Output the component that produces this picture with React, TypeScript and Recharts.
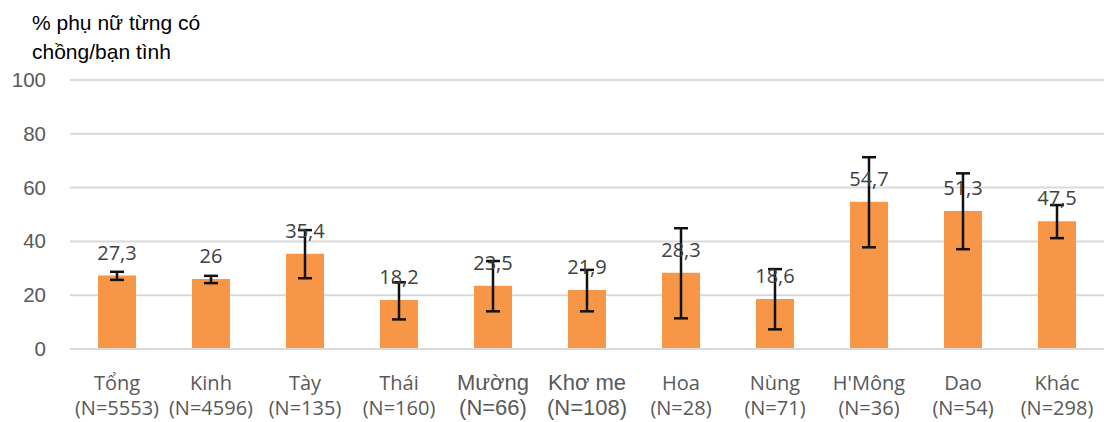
import { Bar, BarChart, CartesianGrid, ErrorBar, LabelList, XAxis, YAxis } from "recharts";

const groups = ["Tổng", "Kinh", "Tày", "Thái", "Mường", "Khơ me", "Hoa", "Nùng", "H'Mông", "Dao", "Khác"];
const sampleSizes = ["(N=5553)", "(N=4596)", "(N=135)", "(N=160)", "(N=66)", "(N=108)", "(N=28)", "(N=71)", "(N=36)", "(N=54)", "(N=298)"];
const percent = [27.3, 26, 35.4, 18.2, 23.5, 21.9, 28.3, 18.6, 54.7, 51.3, 47.5];
// confidence interval bounds
const ciLow = [25.7, 24.5, 26.3, 11.0, 14.0, 14.0, 11.4, 7.3, 37.8, 37.1, 41.2];
const ciHigh = [28.7, 27.2, 44.2, 24.8, 32.7, 29.4, 44.9, 29.7, 71.3, 65.3, 53.5];
const yTicks = [0, 20, 40, 60, 80, 100];

// these two labels are set in a different font in the original
const arialGroups = ["Mường", "Khơ me"];

const data = groups.map((g, i) => ({
  group: g,
  n: sampleSizes[i],
  value: percent[i],
  err: [percent[i] - ciLow[i], ciHigh[i] - percent[i]],
}));

const ORANGE = "#F79646";
const GRID = "#d9d9d9";

function CategoryTick(props: any) {
  const { x, y, payload } = props;
  const row = data.find((d) => d.group === payload.value);
  const arial = arialGroups.includes(payload.value);
  const font = arial ? "'Liberation Sans', Arial, sans-serif" : "'Open Sans', sans-serif";
  const size = arial ? 22 : 20;
  return (
    <g>
      <text x={x} y={y + 33} textAnchor="middle" fill="#595959" fontFamily={font} fontSize={size}>
        {payload.value}
      </text>
      <text x={x} y={y + 58} textAnchor="middle" fill="#595959" fontFamily={font} fontSize={size}>
        {row ? row.n : ""}
      </text>
    </g>
  );
}

function ValueTick(props: any) {
  const { y, payload } = props;
  return (
    <text x={46} y={y + 7} textAnchor="end" fill="#595959" fontFamily="'Liberation Sans', Arial, sans-serif" fontSize={20.5}>
      {payload.value}
    </text>
  );
}

function ValueLabel(props: any) {
  const { x, y, width, value } = props;
  return (
    <text
      x={x + width / 2}
      y={y - 16}
      textAnchor="middle"
      fill="#404040"
      fontFamily="'Open Sans', sans-serif"
      fontSize={20}
    >
      {String(value).replace(".", ",")}
    </text>
  );
}

export default function App() {
  return (
    <div style={{ position: "absolute", left: 0, top: 0, width: 1104, height: 422, background: "#fff" }}>
      <div
        style={{
          position: "absolute",
          left: 32,
          top: 8,
          fontFamily: "'Liberation Sans', Arial, sans-serif",
          fontSize: 21,
          lineHeight: "29px",
          color: "#000",
        }}
      >
        % phụ nữ từng có
        <br />
        chồng/bạn tình
      </div>
      <BarChart width={1104} height={422} data={data} margin={{ top: 80, right: 0, bottom: 0, left: 0 }}>
        <CartesianGrid vertical={false} stroke={GRID} strokeWidth={2} />
        <XAxis
          dataKey="group"
          height={73}
          axisLine={{ stroke: GRID, strokeWidth: 2 }}
          tickLine={false}
          interval={0}
          tick={<CategoryTick />}
        />
        <YAxis
          width={70}
          domain={[0, 100]}
          ticks={yTicks}
          axisLine={false}
          tickLine={false}
          tick={<ValueTick />}
        />
        <Bar dataKey="value" fill={ORANGE} barSize={38} isAnimationActive={false}>
          <ErrorBar dataKey="err" width={7} stroke="#111" strokeWidth={2.5} />
          <LabelList dataKey="value" content={<ValueLabel />} />
        </Bar>
      </BarChart>
    </div>
  );
}
